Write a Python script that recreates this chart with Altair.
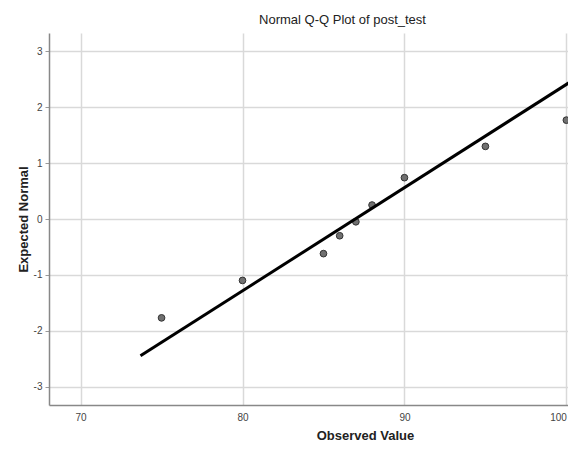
import altair as alt
import pandas as pd

observed = [75, 80, 85, 86, 87, 88, 90, 95, 100]
expected = [-1.77, -1.10, -0.62, -0.30, -0.05, 0.25, 0.74, 1.30, 1.77]

# Reference line end points
line_x = [73.7, 100.6]
line_y = [-2.45, 2.52]

x_ticks = [70, 80, 90, 100]
y_ticks = [-3, -2, -1, 0, 1, 2, 3]

pts = pd.DataFrame({"x": observed, "y": expected})
ln = pd.DataFrame({"x": line_x, "y": line_y})

FONT = "Liberation Sans"

xscale = alt.Scale(domain=[68.05, 100.1], nice=False, zero=False)
yscale = alt.Scale(domain=[-3.33, 3.33], nice=False, zero=False)

xaxis = alt.Axis(
    values=x_ticks, title="Observed Value", grid=True, ticks=False,
    labelExpr="'' + datum.value",
    labelPadding=7, labelFontSize=10, labelColor="#444444", labelFont=FONT,
    labelFlush=5,
    titleFont=FONT, titleFontSize=13, titleFontWeight="bold", titleColor="#222222",
    titleX=316, titleY=30, titleAlign="center", titleBaseline="middle",
    domainColor="#888888", domainWidth=1.5,
)
yaxis = alt.Axis(
    values=y_ticks, title="Expected Normal", grid=True, tickSize=4, tickColor="#999999",
    labelExpr="'' + datum.value",
    labelPadding=3, labelFontSize=10, labelColor="#444444", labelFont=FONT,
    titleFont=FONT, titleFontSize=13, titleFontWeight="bold", titleColor="#222222",
    titleX=-26, titleY=186, titleAlign="center", titleBaseline="middle", titleAngle=-90,
    domainColor="#888888", domainWidth=1.5,
)

line = alt.Chart(ln).mark_line(color="black", strokeWidth=3, clip=True).encode(
    x=alt.X("x:Q", scale=xscale, axis=xaxis),
    y=alt.Y("y:Q", scale=yscale, axis=yaxis),
)

points = alt.Chart(pts).mark_point(
    filled=True, fill="#707070", stroke="#333333", strokeWidth=1, size=45, opacity=1
).encode(
    x=alt.X("x:Q", scale=xscale),
    y=alt.Y("y:Q", scale=yscale),
)

chart = alt.layer(points, line).properties(
    width=519,
    height=372,
    autosize=alt.AutoSizeParams(type="none"),
    padding={"left": 41, "top": 25, "right": 0, "bottom": 36},
    title=alt.TitleParams(
        "Normal Q-Q Plot of post_test", font=FONT, fontSize=13, fontWeight="normal",
        color="#222222", anchor="middle", frame="group", dx=34, offset=6,
    ),
).configure_view(stroke=None).configure_axis(
    gridColor="#d9d9d9", gridWidth=1.5
)

chart.save("out.html", embed_options={"renderer": "svg", "actions": False})
